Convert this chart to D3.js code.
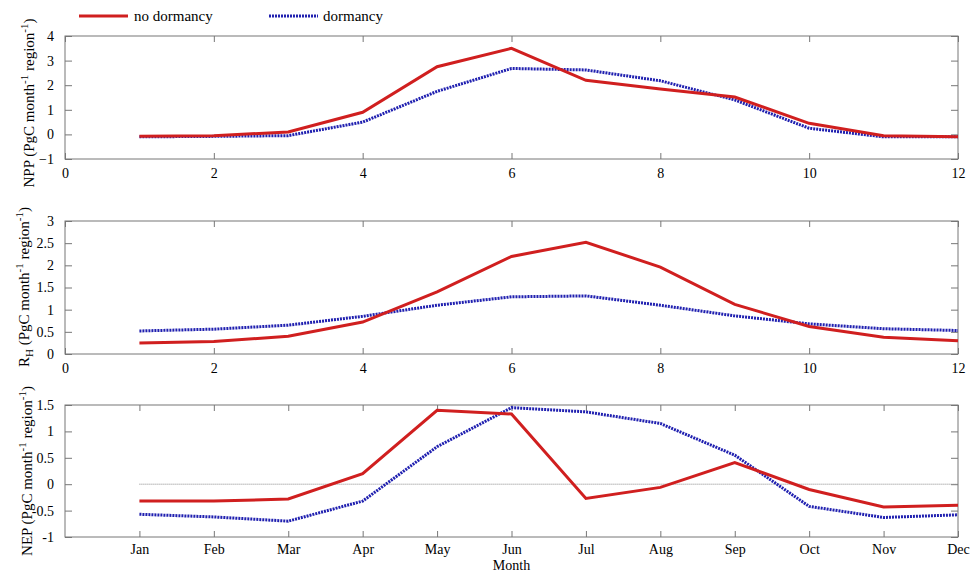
<!DOCTYPE html>
<html><head><meta charset="utf-8">
<script src="https://cdn.jsdelivr.net/npm/d3@7"></script>
<style>body{margin:0;background:#fff}svg{display:block}text{font-family:"Liberation Serif","DejaVu Serif",serif;fill:#000}</style>
</head><body><svg id="c" width="975" height="573"></svg>
<script>
const months = [1,2,3,4,5,6,7,8,9,10,11,12];
const monthLabels = ["Jan","Feb","Mar","Apr","May","Jun","Jul","Aug","Sep","Oct","Nov","Dec"];
const nppNoDormancy = [-0.08,-0.05,0.1,0.9,2.75,3.5,2.2,1.85,1.52,0.45,-0.05,-0.1];
const nppDormancy   = [-0.1,-0.08,-0.05,0.5,1.75,2.68,2.62,2.18,1.4,0.25,-0.1,-0.1];
const rhNoDormancy  = [0.25,0.28,0.4,0.72,1.4,2.2,2.52,1.96,1.12,0.62,0.38,0.3];
const rhDormancy    = [0.52,0.56,0.65,0.85,1.1,1.29,1.31,1.1,0.86,0.68,0.57,0.53];
const nepNoDormancy = [-0.32,-0.32,-0.28,0.2,1.4,1.33,-0.27,-0.06,0.41,-0.1,-0.43,-0.4];
const nepDormancy   = [-0.57,-0.62,-0.7,-0.32,0.71,1.45,1.37,1.15,0.55,-0.42,-0.63,-0.58];
const seriesNames = ["no dormancy","dormancy"];

const FONT = '"Liberation Serif","DejaVu Serif",serif';
const svg = d3.select("#c");
const RED = "#d01f1f", BLUE = "#2020b0", AX = "#777";
const x = d3.scaleLinear().domain([0,12]).range([65,958]);

const panels = [
  {top:36, bot:159, dom:[-1,4], ticks:[-1,0,1,2,3,4], fmt:d3.format("d"), a:nppNoDormancy, b:nppDormancy, label:"NPP", sub:null, xt:"num", lx:34, cy:103},
  {top:221, bot:354, dom:[0,3], ticks:[0,0.5,1,1.5,2,2.5,3], fmt:d=>String(d), a:rhNoDormancy, b:rhDormancy, label:"R", sub:"H", xt:"num", lx:29, cy:287},
  {top:405, bot:537, dom:[-1,1.5], ticks:[-1,-0.5,0,0.5,1,1.5], fmt:d=>String(d), a:nepNoDormancy, b:nepDormancy, label:"NEP", sub:null, xt:"month", lx:32, cy:471}
];

panels.forEach((p,i)=>{
  const y = d3.scaleLinear().domain(p.dom).range([p.bot,p.top]);
  const g = svg.append("g");
  g.append("rect").attr("x",x(0)).attr("y",p.top).attr("width",x(12)-x(0)).attr("height",p.bot-p.top)
    .attr("fill","none").attr("stroke",AX).attr("stroke-width",1);
  let xTicks, xFmt;
  if(p.xt==="num"){ xTicks=[0,2,4,6,8,10,12]; xFmt=d3.format("d"); }
  else { xTicks=months; xFmt=d=>monthLabels[d-1]; }
  const bx = g.append("g").attr("transform",`translate(0,${p.bot})`)
    .call(d3.axisBottom(x).tickValues(xTicks).tickFormat(xFmt).tickSize(-6).tickPadding(p.xt==="month"?7:9));
  const tx = g.append("g").attr("transform",`translate(0,${p.top})`)
    .call(d3.axisTop(x).tickValues(xTicks).tickFormat("").tickSize(-6));
  const ly = g.append("g").attr("transform",`translate(${x(0)},0)`)
    .call(d3.axisLeft(y).tickValues(p.ticks).tickFormat(p.fmt).tickSize(-7).tickPadding(11));
  const ry = g.append("g").attr("transform",`translate(${x(12)},0)`)
    .call(d3.axisRight(y).tickValues(p.ticks).tickFormat("").tickSize(-7));
  [bx,tx,ly,ry].forEach(a=>{
    a.select(".domain").remove();
    a.selectAll(".tick line").attr("stroke",AX);
    a.selectAll("text").style("font-family",FONT).style("font-size","14px").attr("fill","#000");
  });
  if(p.xt==="month"){
    g.append("line").attr("x1",x(1)).attr("x2",x(12)).attr("y1",y(0)).attr("y2",y(0))
      .attr("stroke","#888").attr("stroke-width",1).attr("stroke-dasharray","1,1");
  }
  const line = d3.line().x((d,j)=>x(months[j])).y(d=>y(d));
  g.append("path").datum(p.b).attr("d",line).attr("fill","none").attr("stroke",BLUE)
    .attr("stroke-width",3).attr("stroke-dasharray","2,1");
  g.append("path").datum(p.a).attr("d",line).attr("fill","none").attr("stroke",RED)
    .attr("stroke-width",3);
  const t = svg.append("text").attr("transform",`translate(${p.lx},${p.cy}) rotate(-90)`)
    .attr("text-anchor","middle").style("font-family",FONT).style("font-size","15px");
  t.append("tspan").text(p.label);
  if(p.sub) t.append("tspan").attr("dy",4).style("font-size","11px").text(p.sub);
  t.append("tspan").attr("dy",p.sub?-4:0).text(" (PgC month");
  t.append("tspan").attr("dy",-6).style("font-size","11px").text("-1");
  t.append("tspan").attr("dy",6).text(" region");
  t.append("tspan").attr("dy",-6).style("font-size","11px").text("-1");
  t.append("tspan").attr("dy",6).text(")");
});

svg.append("text").attr("x",(x(0)+x(12))/2).attr("y",570).attr("text-anchor","middle")
  .style("font-family",FONT).style("font-size","14px").text("Month");

const leg = [{c:RED,dash:null,x:79,tx:134},{c:BLUE,dash:"2,1",x:269,tx:323}];
leg.forEach((l,i)=>{
  svg.append("line").attr("x1",l.x).attr("x2",l.x+49).attr("y1",16).attr("y2",16)
    .attr("stroke",l.c).attr("stroke-width",3).attr("stroke-dasharray",l.dash);
  svg.append("text").attr("x",l.tx).attr("y",21).style("font-family",FONT).style("font-size","15px").text(seriesNames[i]);
});
</script></body></html>
